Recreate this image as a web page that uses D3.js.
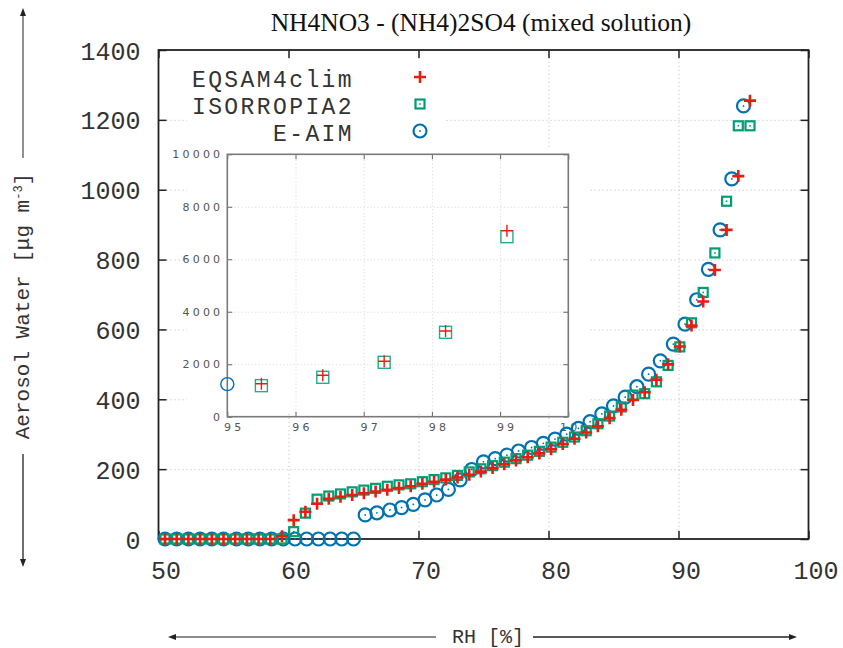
<!DOCTYPE html>
<html>
<head>
<meta charset="utf-8">
<script src="https://cdn.jsdelivr.net/npm/d3@7"></script>
<style>
  body { margin: 0; background: #fff; }
  svg { display: block; }
</style>
</head>
<body>
<svg id="chart" width="843" height="648"></svg>
<script>
// Relative humidity grid (%) shared by EQSAM4clim and ISORROPIA2
const rhModel = [50.5, 51.4, 52.3, 53.2, 54.1, 55.0, 55.9, 56.8, 57.7, 58.6,
  59.5, 60.4, 61.3, 62.2, 63.1, 64.0, 64.9, 65.8, 66.7, 67.6,
  68.5, 69.4, 70.3, 71.2, 72.1, 73.0, 73.9, 74.8, 75.7, 76.6,
  77.5, 78.4, 79.3, 80.2, 81.1, 82.0, 82.9, 83.8, 84.7, 85.6,
  86.5, 87.4, 88.3, 89.2, 90.1, 91.0, 91.9, 92.8, 93.7, 94.6,
  95.5, 96.4, 97.3, 98.2, 99.1];

// Aerosol water (ug m-3), EQSAM4clim
const eqsamWater = [0, 0, 0, 0, 0, 0, 0, 0, 0, 0,
  8, 54, 78, 101, 115, 121, 126, 131, 136, 141,
  146, 151, 158, 164, 170, 176, 184, 193, 203, 214,
  225, 234, 245, 257, 272, 287, 305, 323, 346, 370,
  398, 420, 456, 500, 551, 611, 680, 770, 885, 1039,
  1255, 1578, 2111, 3266, 7090];

// Aerosol water (ug m-3), ISORROPIA2
const isorropiaWater = [0, 0, 0, 0, 0, 0, 0, 0, 0, 0,
  0, 21, 74, 114, 123, 129, 135, 140, 145, 151,
  155, 158, 164, 170, 175, 182, 192, 201, 210, 220,
  230, 240, 251, 263, 277, 292, 310, 330, 352, 378,
  412, 416, 450, 497, 550, 619, 706, 819, 967, 1183,
  1183, 1501, 2073, 3216, 6860];

// Relative humidity grid (%) of the E-AIM reference runs
const rhEaim = [50.5, 51.4, 52.3, 53.2, 54.1, 55.0, 56.0, 56.9, 57.8, 58.7,
  59.6, 60.5, 61.4, 62.3, 63.2, 64.1, 65.0, 65.9, 66.8, 67.8,
  68.7, 69.6, 70.5, 71.4, 72.3, 73.2, 74.1, 75.0, 75.9, 76.8,
  77.7, 78.7, 79.6, 80.5, 81.4, 82.3, 83.2, 84.1, 85.0, 85.9,
  86.8, 87.7, 88.6, 89.6, 90.5, 91.4, 92.3, 93.2, 94.1, 95.0];

// Aerosol water (ug m-3), E-AIM
const eaimWater = [0, 0, 0, 0, 0, 0, 0, 0, 0, 0,
  0, 0, 0, 0, 0, 0, 0, 69, 75, 83,
  90, 99, 112, 126, 142, 169, 199, 221, 230, 240,
  252, 262, 274, 286, 300, 317, 336, 358, 381, 406,
  436, 472, 510, 558, 615, 685, 772, 885, 1031, 1240];

const seriesNames = ["EQSAM4clim", "ISORROPIA2", "E-AIM"];
const mainXTicks = [50, 60, 70, 80, 90, 100];
const mainYTicks = [0, 200, 400, 600, 800, 1000, 1200, 1400];
const insetXTicks = [95, 96, 97, 98, 99, 100];
const insetYTicks = [0, 2000, 4000, 6000, 8000, 10000];
const titleText = "NH4NO3 - (NH4)2SO4 (mixed solution)";

const RED = "#e51e10", GREEN = "#009e73", BLUE = "#0072b2";
const MONO = "'Liberation Mono', 'DejaVu Sans Mono', monospace";
const TEXT = "#333";
const intFmt = d3.format("d");

const svg = d3.select("#chart");

const series = [
  { name: seriesNames[0], rh: rhModel, water: eqsamWater, kind: "plus" },
  { name: seriesNames[1], rh: rhModel, water: isorropiaWater, kind: "square" },
  { name: seriesNames[2], rh: rhEaim, water: eaimWater, kind: "circle" }
];

// ---------- main panel scales ----------
const x = d3.scaleLinear().domain([50, 100]).range([158.5, 808.5]);
const y = d3.scaleLinear().domain([0, 1400]).range([539, 50]);
const [X0, X1] = x.range();
const [Y0, Y1] = y.range();

// dotted grid
const gridStyle = g => g.selectAll("line")
  .attr("stroke", "#c4c4c4").attr("stroke-width", 1).attr("stroke-dasharray", "1.2,2.8");

svg.append("g").attr("transform", `translate(0,${Y0})`)
  .call(d3.axisBottom(x).tickValues(mainXTicks.slice(1, -1)).tickSize(-(Y0 - Y1)).tickFormat(""))
  .call(g => g.select(".domain").remove())
  .call(gridStyle);
svg.append("g").attr("transform", `translate(${X0},0)`)
  .call(d3.axisLeft(y).tickValues(mainYTicks.slice(1, -1)).tickSize(-(X1 - X0)).tickFormat(""))
  .call(g => g.select(".domain").remove())
  .call(gridStyle);

// white backing behind the key and the inset
svg.append("rect").attr("x", 187).attr("y", 60).attr("width", 258).attr("height", 92).attr("fill", "#fff");
svg.append("rect").attr("x", 187).attr("y", 150).attr("width", 403).attr("height", 262).attr("fill", "#fff");

// ---------- inset panel (95-100 % RH) ----------
const xi = d3.scaleLinear().domain([95, 100]).range([227.3, 568.3]);
const yi = d3.scaleLinear().domain([0, 10000]).range([416.7, 154.3]);
const [XI0, XI1] = xi.range();
const [YI0, YI1] = yi.range();

const insetGrid = g => g.selectAll("line")
  .attr("stroke", "#d6d6d6").attr("stroke-width", 1).attr("stroke-dasharray", "1,2.5");
svg.append("g").attr("transform", `translate(0,${YI0})`)
  .call(d3.axisBottom(xi).tickValues(insetXTicks.slice(1, -1)).tickSize(-(YI0 - YI1)).tickFormat(""))
  .call(g => g.select(".domain").remove())
  .call(insetGrid);
svg.append("g").attr("transform", `translate(${XI0},0)`)
  .call(d3.axisLeft(yi).tickValues(insetYTicks.slice(1, -1)).tickSize(-(XI1 - XI0)).tickFormat(""))
  .call(g => g.select(".domain").remove())
  .call(insetGrid);

const insetLabel = sel => sel.attr("fill", "#555")
  .attr("font-family", "'DejaVu Sans', sans-serif").attr("font-size", 11)
  .attr("letter-spacing", 3.2);

// inset ticks (inward) on all four sides
const insetTick = "#666";
svg.append("g").attr("transform", `translate(0,${YI0})`)
  .call(d3.axisBottom(xi).tickValues(insetXTicks).tickSize(-5).tickPadding(14).tickFormat(intFmt))
  .call(g => g.select(".domain").remove())
  .call(g => g.selectAll("line").attr("stroke", insetTick))
  .call(g => g.selectAll("text").call(insetLabel).attr("dx", 6.5).attr("dy", 0));
svg.append("g").attr("transform", `translate(0,${YI1})`)
  .call(d3.axisTop(xi).tickValues(insetXTicks).tickSize(-5).tickFormat(""))
  .call(g => g.select(".domain").remove())
  .call(g => g.selectAll("line").attr("stroke", insetTick));
svg.append("g").attr("transform", `translate(${XI0},0)`)
  .call(d3.axisLeft(yi).tickValues(insetYTicks).tickSize(-5).tickPadding(4).tickFormat(intFmt))
  .call(g => g.select(".domain").remove())
  .call(g => g.selectAll("line").attr("stroke", insetTick))
  .call(g => g.selectAll("text").call(insetLabel));
svg.append("g").attr("transform", `translate(${XI1},0)`)
  .call(d3.axisRight(yi).tickValues(insetYTicks).tickSize(-5).tickFormat(""))
  .call(g => g.select(".domain").remove())
  .call(g => g.selectAll("line").attr("stroke", insetTick));

svg.append("rect").attr("x", XI0).attr("y", YI1).attr("width", XI1 - XI0).attr("height", YI0 - YI1)
  .attr("fill", "none").attr("stroke", "#7a7a7a").attr("stroke-width", 1.6);

// point markers for one series, limited to the panel's domain
function drawMarkers(layer, s, sx, sy, opts) {
  const pts = s.rh.map((r, i) => [r, s.water[i]])
    .filter(d => d[0] >= sx.domain()[0] && d[0] <= sx.domain()[1] &&
                 d[1] >= sy.domain()[0] && d[1] <= sy.domain()[1]);
  const g = layer.append("g");
  const sel = g.selectAll("g").data(pts).join("g")
    .attr("transform", d => `translate(${sx(d[0])},${sy(d[1])})`);
  if (s.kind === "plus") {
    sel.append("path").attr("d", `M${-opts.plus},0H${opts.plus}M0,${-opts.plus}V${opts.plus}`)
      .attr("stroke", RED).attr("stroke-width", opts.plusW).attr("fill", "none");
  } else if (s.kind === "square") {
    sel.append("rect").attr("x", -opts.sq).attr("y", -opts.sq)
      .attr("width", 2 * opts.sq).attr("height", 2 * opts.sq)
      .attr("stroke", GREEN).attr("stroke-width", opts.lineW).attr("fill", "none")
      .attr("stroke-opacity", opts.opacity);
    if (opts.dot) sel.append("rect").attr("x", -0.8).attr("y", -0.8).attr("width", 1.6).attr("height", 1.6).attr("fill", GREEN);
  } else {
    sel.append("circle").attr("r", opts.r)
      .attr("stroke", BLUE).attr("stroke-width", opts.lineW).attr("fill", "none");
    if (opts.dot) sel.append("circle").attr("r", 0.9).attr("fill", BLUE);
  }
}
const insetOpts = { plus: 6, plusW: 1.4, sq: 6, r: 6.5, lineW: 1.4, dot: false, opacity: 0.85 };
const insetLayer = svg.append("g");
drawMarkers(insetLayer, series[2], xi, yi, insetOpts);
drawMarkers(insetLayer, series[1], xi, yi, insetOpts);
drawMarkers(insetLayer, series[0], xi, yi, insetOpts);

// ---------- main frame, ticks and labels ----------
const frameCol = "#222";
svg.append("g").attr("transform", `translate(${X0},0)`)
  .call(d3.axisLeft(y).tickValues(mainYTicks).tickSize(-8).tickPadding(18).tickFormat(intFmt))
  .call(g => g.select(".domain").remove())
  .call(g => g.selectAll("line").attr("stroke", frameCol).attr("stroke-width", 1.5))
  .call(g => g.selectAll("text").attr("font-family", MONO).attr("font-size", 25)
    .attr("fill", TEXT).attr("dy", "0.36em"));
svg.append("g").attr("transform", `translate(${X1},0)`)
  .call(d3.axisRight(y).tickValues(mainYTicks).tickSize(-8).tickFormat(""))
  .call(g => g.select(".domain").remove())
  .call(g => g.selectAll("line").attr("stroke", frameCol).attr("stroke-width", 1.5));
svg.append("g").attr("transform", `translate(0,${Y0})`)
  .call(d3.axisBottom(x).tickValues(mainXTicks).tickSize(-8).tickPadding(25).tickFormat(intFmt))
  .call(g => g.select(".domain").remove())
  .call(g => g.selectAll("line").attr("stroke", frameCol).attr("stroke-width", 1.5))
  .call(g => g.selectAll("text").attr("font-family", MONO).attr("font-size", 25)
    .attr("fill", TEXT).attr("dx", 7).attr("dy", "0.6em"));
svg.append("g").attr("transform", `translate(0,${Y1})`)
  .call(d3.axisTop(x).tickValues(mainXTicks).tickSize(-8).tickFormat(""))
  .call(g => g.select(".domain").remove())
  .call(g => g.selectAll("line").attr("stroke", frameCol).attr("stroke-width", 1.5));

svg.append("rect").attr("x", X0).attr("y", Y1).attr("width", X1 - X0).attr("height", Y0 - Y1)
  .attr("fill", "none").attr("stroke", frameCol).attr("stroke-width", 1.8);

// main markers
const mainOpts = { plus: 6, plusW: 2.6, sq: 4.5, r: 6.5, lineW: 2.2, dot: true, opacity: 1 };
const mainLayer = svg.append("g");
drawMarkers(mainLayer, series[2], x, y, mainOpts);
drawMarkers(mainLayer, series[1], x, y, mainOpts);
drawMarkers(mainLayer, series[0], x, y, mainOpts);

// ---------- key ----------
const key = svg.append("g");
const keyRows = [{ kind: "plus", yb: 87 }, { kind: "square", yb: 114 }, { kind: "circle", yb: 141 }];
keyRows.forEach((row, i) => {
  key.append("text").attr("x", 354).attr("y", row.yb).attr("text-anchor", "end")
    .attr("font-family", MONO).attr("font-size", 23).attr("letter-spacing", 2.4)
    .attr("fill", TEXT).text(seriesNames[i]);
  const m = key.append("g").attr("transform", `translate(420,${row.yb - 10})`);
  if (row.kind === "plus") {
    m.append("path").attr("d", "M-6,0H6M0,-6V6").attr("stroke", RED).attr("stroke-width", 2.6);
  } else if (row.kind === "square") {
    m.append("rect").attr("x", -4.5).attr("y", -4.5).attr("width", 9).attr("height", 9)
      .attr("fill", "none").attr("stroke", GREEN).attr("stroke-width", 2.2);
    m.append("rect").attr("x", -0.8).attr("y", -0.8).attr("width", 1.6).attr("height", 1.6).attr("fill", GREEN);
  } else {
    m.append("circle").attr("r", 6.5).attr("fill", "none").attr("stroke", BLUE).attr("stroke-width", 2.2);
    m.append("circle").attr("r", 0.9).attr("fill", BLUE);
  }
});

// ---------- title and axis labels ----------
svg.append("text").attr("x", 481).attr("y", 31).attr("text-anchor", "middle")
  .attr("font-family", "'Liberation Serif', 'Times New Roman', serif").attr("font-size", 25.5)
  .attr("fill", "#111").text(titleText);

const arrowHead = (px, py, dir) => {
  const L = 8, W = 3;
  const pts = {
    up: [[px, py], [px - W, py + L], [px + W, py + L]],
    down: [[px, py], [px - W, py - L], [px + W, py - L]],
    left: [[px, py], [px + L, py - W], [px + L, py + W]],
    right: [[px, py], [px - L, py - W], [px - L, py + W]]
  }[dir];
  svg.append("path").attr("d", d3.line()(pts) + "Z").attr("fill", "#222");
};

// y label with vertical arrows
const yLab = svg.append("text").attr("transform", "translate(29,306) rotate(-90)")
  .attr("text-anchor", "middle").attr("font-family", MONO).attr("font-size", 21).attr("fill", TEXT);
yLab.append("tspan").text("Aerosol Water [μg m");
yLab.append("tspan").attr("baseline-shift", "super").attr("font-size", 12).text("-3");
yLab.append("tspan").text("]");
svg.append("line").attr("x1", 23).attr("x2", 23).attr("y1", 10).attr("y2", 158)
  .attr("stroke", "#555").attr("stroke-width", 1.3);
svg.append("line").attr("x1", 23).attr("x2", 23).attr("y1", 454).attr("y2", 564)
  .attr("stroke", "#222").attr("stroke-width", 1.3);
arrowHead(23, 8, "up");
arrowHead(23, 567, "down");

// x label with horizontal arrows
svg.append("text").attr("x", 488).attr("y", 643).attr("text-anchor", "middle")
  .attr("font-family", MONO).attr("font-size", 20).attr("fill", TEXT).text("RH [%]");
svg.append("line").attr("x1", 171).attr("x2", 436).attr("y1", 637).attr("y2", 637)
  .attr("stroke", "#666").attr("stroke-width", 1.6);
svg.append("line").attr("x1", 533).attr("x2", 794).attr("y1", 637).attr("y2", 637)
  .attr("stroke", "#222").attr("stroke-width", 1.3);
arrowHead(168, 637, "left");
arrowHead(797, 637, "right");
</script>
</body>
</html>
